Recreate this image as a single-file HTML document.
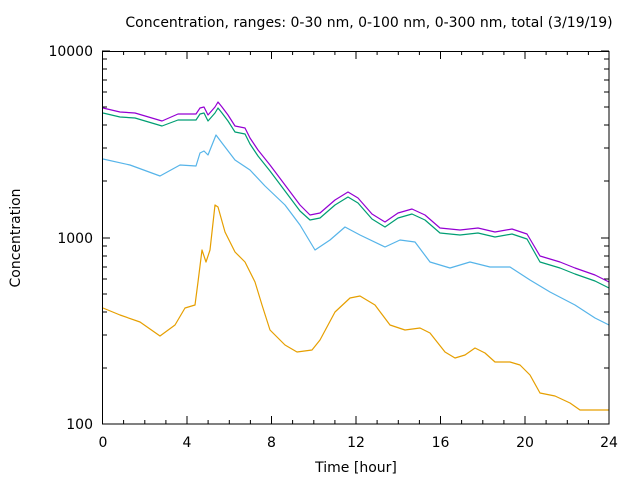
<!DOCTYPE html>
<html><head><meta charset="utf-8"><style>body{margin:0;background:#fff}svg{display:block}</style></head><body>
<svg width="640" height="480" xmlns="http://www.w3.org/2000/svg" font-family="DejaVu Sans, Liberation Sans, sans-serif" font-size="14">
<rect width="640" height="480" fill="#fff"/>
<text x="369" y="27" text-anchor="middle" font-size="14">Concentration, ranges: 0-30 nm, 0-100 nm, 0-300 nm, total (3/19/19)</text>
<g stroke="#000" stroke-width="1">
<path d="M102,424h8M102,368h5M102,335h5M102,312h5M102,294h5M102,279h5M102,267h5M102,256h5M102,246h5M102,238h8M102,181h5M102,148h5M102,125h5M102,107h5M102,92h5M102,80h5M102,69h5M102,59h5M102,51h8
M609,424h-8M609,368h-5M609,335h-5M609,312h-5M609,294h-5M609,279h-5M609,267h-5M609,256h-5M609,246h-5M609,238h-8M609,181h-5M609,148h-5M609,125h-5M609,107h-5M609,92h-5M609,80h-5M609,69h-5M609,59h-5M609,51h-8"/>
<path d="M102.5,424v-8M123.6,424v-4M144.8,424v-4M165.9,424v-4M187,424v-8M208.1,424v-4M229.3,424v-4M250.4,424v-4M271.5,424v-8M292.6,424v-4M313.8,424v-4M334.9,424v-4M356,424v-8M377.1,424v-4M398.3,424v-4M419.4,424v-4M440.5,424v-8M461.6,424v-4M482.8,424v-4M503.9,424v-4M525,424v-8M546.1,424v-4M567.3,424v-4M588.4,424v-4M609,424v-8
M102.5,51v8M123.6,51v4M144.8,51v4M165.9,51v4M187,51v8M208.1,51v4M229.3,51v4M250.4,51v4M271.5,51v8M292.6,51v4M313.8,51v4M334.9,51v4M356,51v8M377.1,51v4M398.3,51v4M419.4,51v4M440.5,51v8M461.6,51v4M482.8,51v4M503.9,51v4M525,51v8M546.1,51v4M567.3,51v4M588.4,51v4"/>
</g>
<g text-anchor="end"><text x="93" y="429">100</text><text x="93" y="243">1000</text><text x="93" y="56">10000</text></g>
<g text-anchor="middle"><text x="103" y="447">0</text><text x="187" y="447">4</text><text x="271.5" y="447">8</text><text x="356" y="447">12</text><text x="440.5" y="447">16</text><text x="525" y="447">20</text><text x="609" y="447">24</text>
<text x="356" y="472">Time [hour]</text>
<text x="20" y="238" transform="rotate(-90 20 238)">Concentration</text></g>
<g fill="none" stroke-width="1.2" stroke-linejoin="round">
<polyline stroke="#e69f00" points="103,308 120,315 140,322 160,336 175,325 185,308 195,305 198,282 202,250 206,262 210,250 215,205 218,207 225,232 235,252 245,262 255,282 262,305 270,330 285,345 297,352 312,350 320,340 335,312 350,298 360,296 375,305 390,325 405,330 420,328 430,333 445,352 455,358 465,355 475,348 485,353 495,362 510,362 520,365 530,375 540,393 555,396 570,403 580,410 595,410 609,410"/>
<polyline stroke="#56b4e9" points="103,159 130,165 160,176 180,165 196,166 200,153 204,151 208,155 216,135 222,143 235,160 250,170 265,186 285,205 300,225 315,250 330,240 345,227 360,235 385,247 400,240 415,242 430,262 450,268 470,262 490,267 510,267 530,280 550,292 575,305 595,318 609,325"/>
<polyline stroke="#009e73" points="103,113 120,117 135,118 162,126 178,120 196,120 200,114 204,113 208,121 215,113 218,108 222,113 228,121 235,132 245,134 250,144 258,156 270,171 285,191 300,211 310,220 320,218 335,205 348,197 358,203 372,219 385,227 398,218 412,214 425,220 440,233 460,235 478,233 495,237 512,234 527,239 540,262 560,268 575,274 595,281 609,288"/>
<polyline stroke="#9400d3" points="103,108 120,112 135,113 162,121 178,114 196,114 200,108 204,107 208,115 215,107 218,102 222,107 228,115 235,126 245,128 250,138 258,150 270,165 285,185 300,205 310,215 320,213 335,200 348,192 358,198 372,214 385,222 398,213 412,209 425,215 440,228 460,230 478,228 495,232 512,229 527,234 540,256 560,262 575,268 595,275 609,282"/>
</g>
<rect x="102.5" y="51.5" width="506.5" height="372.5" fill="none" stroke="#000" stroke-width="1"/>
</svg>
</body></html>
